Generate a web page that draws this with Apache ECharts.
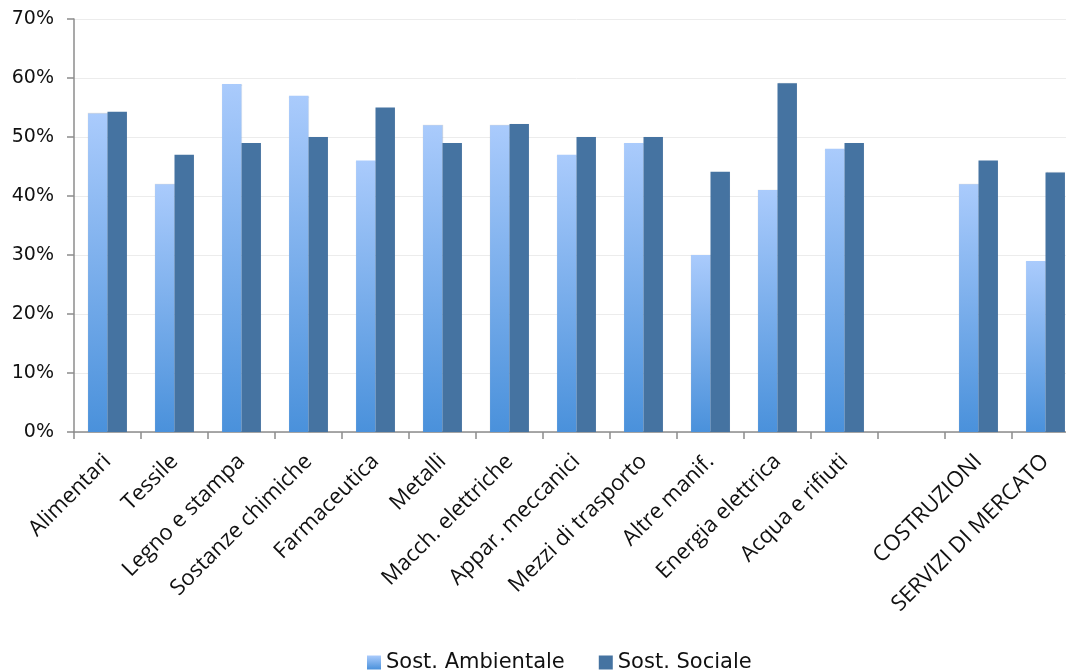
<!DOCTYPE html>
<html><head><meta charset="utf-8">
<script src="https://cdn.jsdelivr.net/npm/echarts@6/dist/echarts.min.js"></script>
<style>html,body{margin:0;padding:0;background:#fff;overflow:hidden;width:1066px;height:672px}#c{width:1079px;height:672px}</style>
</head><body><div id="c"></div>
<script>
const categories = ['Alimentari','Tessile','Legno e stampa','Sostanze chimiche','Farmaceutica','Metalli','Macch. elettriche','Appar. meccanici','Mezzi di trasporto','Altre manif.','Energia elettrica','Acqua e rifiuti','','COSTRUZIONI','SERVIZI DI MERCATO'];
const ambientale = [54, 42, 59, 57, 46, 52, 52, 47, 49, 30, 41, 48, null, 42, 29];
const sociale = [54.3, 47, 49, 50, 55, 49, 52.2, 50, 50, 44.1, 59.1, 49, null, 46, 44];
const seriesNames = ['Sost. Ambientale', 'Sost. Sociale'];

const chart = echarts.init(document.getElementById('c'));
chart.setOption({
  animation: false,
  legend: {
    left: 362, top: 647, itemWidth: 14, itemHeight: 14, itemGap: 34, icon: 'rect',
    textStyle: {fontFamily: 'DejaVu Sans', fontSize: 21, color: '#111'},
    data: seriesNames
  },
  grid: {left: 74, right: 0, top: 19, bottom: 240, containLabel: false},
  xAxis: {
    type: 'category', data: categories,
    axisLine: {lineStyle: {color: '#8c8c8c', width: 1.5}},
    axisTick: {show: true, length: 7, lineStyle: {color: '#8c8c8c', width: 1.5}},
    axisLabel: {interval: 0, rotate: 45, margin: 26, fontFamily: 'Open Sans', fontSize: 22, color: '#111'}
  },
  yAxis: {
    type: 'value', min: 0, max: 70, interval: 10,
    axisLine: {show: true, lineStyle: {color: '#8c8c8c', width: 1.5}},
    axisTick: {show: true, length: 7, inside: false, lineStyle: {color: '#8c8c8c', width: 1.5}},
    axisLabel: {formatter: '{value}%', margin: 20, fontFamily: 'DejaVu Sans', fontSize: 19, color: '#111'},
    splitLine: {lineStyle: {color: '#ececec', width: 1}}
  },
  series: [
    {name: seriesNames[0], type: 'bar', data: ambientale, barGap: '0%', barCategoryGap: '42%',
     itemStyle: {color: new echarts.graphic.LinearGradient(0,0,0,1,[{offset:0,color:'#aacbfc'},{offset:1,color:'#4a91db'}]),
                 shadowColor: 'rgba(0,0,0,0.15)', shadowBlur: 1}},
    {name: seriesNames[1], type: 'bar', data: sociale, barGap: '0%', barCategoryGap: '42%',
     itemStyle: {color: '#4573a1', shadowColor: 'rgba(0,0,0,0.15)', shadowBlur: 1}}
  ]
});
</script></body></html>
